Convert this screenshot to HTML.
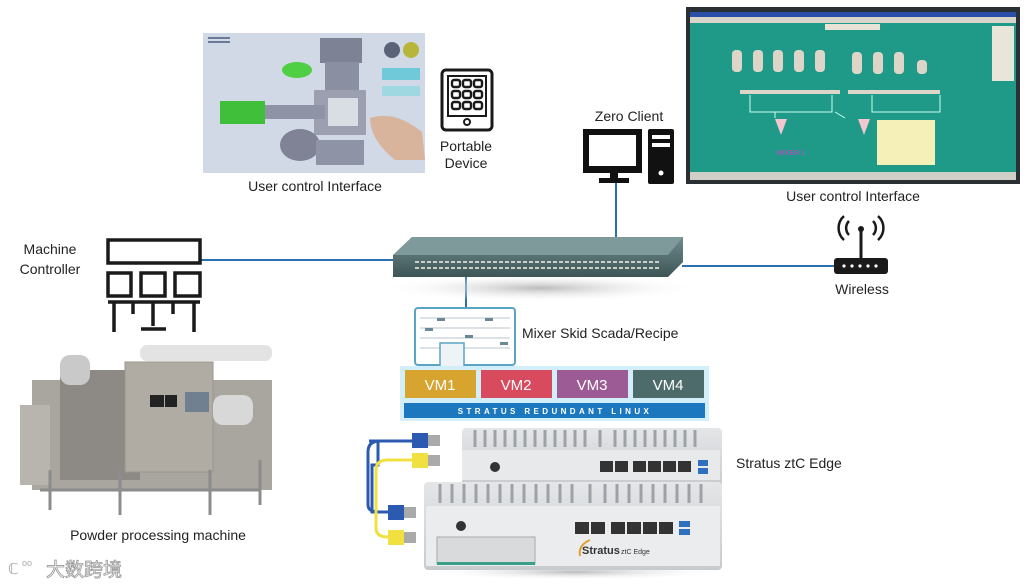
<!DOCTYPE html>
<html><head><meta charset="utf-8"><style>
html,body{margin:0;padding:0;background:#fff;width:1035px;height:585px;overflow:hidden}
svg{display:block}
text{font-family:"Liberation Sans",Arial,sans-serif;fill:#222}
</style></head><body>
<svg width="1035" height="585" viewBox="0 0 1035 585" xmlns="http://www.w3.org/2000/svg">
<defs>
<linearGradient id="sw" x1="0" y1="0" x2="0" y2="1"><stop offset="0" stop-color="#6f8a8c"/><stop offset="1" stop-color="#3e5556"/></linearGradient>
<linearGradient id="shell" x1="0" y1="0" x2="0" y2="1"><stop offset="0" stop-color="#e4e6e8"/><stop offset="1" stop-color="#c8cbce"/></linearGradient>
<radialGradient id="shd" cx="0.5" cy="0.5" r="0.5"><stop offset="0" stop-color="#bbb"/><stop offset="1" stop-color="#fff" stop-opacity="0"/></radialGradient>
</defs>

<!-- connector lines -->
<line x1="200" y1="260" x2="396" y2="260" stroke="#2b6fae" stroke-width="2"/>
<line x1="682" y1="266" x2="836" y2="266" stroke="#2b6fae" stroke-width="2"/>
<line x1="616" y1="183" x2="616" y2="240" stroke="#2b6fae" stroke-width="2"/>
<line x1="466" y1="277" x2="466" y2="309" stroke="#2b6fae" stroke-width="2"/>

<!-- left photo user interface -->
<rect x="203" y="33" width="222" height="140" fill="#c9d3e0"/>
<rect x="203" y="33" width="222" height="140" fill="#d6dde8" opacity="0.6"/>
<rect x="208" y="37" width="22" height="2" fill="#6a7a99"/><rect x="208" y="41" width="22" height="2" fill="#6a7a99"/>
<rect x="320" y="38" width="42" height="25" fill="#7d8295"/>
<rect x="325" y="62" width="34" height="28" fill="#8b8fa2"/>
<rect x="314" y="90" width="52" height="45" fill="#9b9fb0"/>
<rect x="328" y="98" width="30" height="28" fill="#d9dde4"/>
<rect x="225" y="105" width="100" height="14" fill="#8e93a5"/>
<rect x="220" y="101" width="45" height="23" fill="#3fbf3a"/>
<ellipse cx="297" cy="70" rx="15" ry="8" fill="#4fcf44"/>
<ellipse cx="300" cy="145" rx="20" ry="16" fill="#7f8395"/>
<rect x="316" y="140" width="48" height="25" fill="#8e93a5"/>
<rect x="382" y="68" width="38" height="12" fill="#6fc9d8"/>
<rect x="382" y="86" width="38" height="10" fill="#9fd8e0"/>
<circle cx="392" cy="50" r="8" fill="#5b6378"/><circle cx="411" cy="50" r="8" fill="#b7b63a"/>
<path d="M370 118 Q395 110 422 132 L425 160 L395 160 Q370 140 370 118Z" fill="#d9b49d"/>

<!-- tablet -->
<rect x="442" y="70" width="50" height="60" rx="4" fill="#fff" stroke="#1a1a1a" stroke-width="3"/>
<rect x="448" y="76" width="38" height="40" fill="#fff" stroke="#1a1a1a" stroke-width="2"/>
<g fill="#fff" stroke="#1a1a1a" stroke-width="2.4">
<rect x="452" y="80" width="8" height="7" rx="2"/><rect x="463" y="80" width="8" height="7" rx="2"/><rect x="474" y="80" width="8" height="7" rx="2"/>
<rect x="452" y="91" width="8" height="7" rx="2"/><rect x="463" y="91" width="8" height="7" rx="2"/><rect x="474" y="91" width="8" height="7" rx="2"/>
<rect x="452" y="102" width="8" height="7" rx="2"/><rect x="463" y="102" width="8" height="7" rx="2"/><rect x="474" y="102" width="8" height="7" rx="2"/>
</g>
<circle cx="467" cy="122" r="3" fill="#fff" stroke="#1a1a1a" stroke-width="2"/>
<text x="466" y="151" font-size="14" text-anchor="middle">Portable</text>
<text x="466" y="168" font-size="14" text-anchor="middle">Device</text>
<text x="315" y="191" font-size="14" text-anchor="middle">User control Interface</text>

<!-- zero client -->
<text x="629" y="121" font-size="14" text-anchor="middle">Zero Client</text>
<rect x="583" y="129" width="59" height="44" fill="#111"/>
<rect x="589" y="135" width="47" height="31" fill="#fff"/>
<rect x="610" y="173" width="8" height="6" fill="#111"/><rect x="599" y="178" width="30" height="5" fill="#111"/>
<rect x="648" y="129" width="26" height="55" rx="2" fill="#111"/>
<rect x="652" y="135" width="18" height="4" fill="#fff"/><rect x="652" y="143" width="18" height="4" fill="#fff"/>
<circle cx="661" cy="173" r="2.5" fill="#fff"/>

<!-- right screen -->
<rect x="686" y="7" width="334" height="177" fill="#2a2f33"/>
<rect x="690" y="12" width="326" height="168" fill="#1f9a89"/>
<rect x="690" y="12" width="326" height="5" fill="#2b4ea8"/>
<rect x="690" y="17" width="326" height="6" fill="#d8d5cc"/>
<rect x="825" y="24" width="55" height="6" fill="#e8e3d4"/>
<rect x="992" y="26" width="22" height="55" fill="#e8e6da"/>
<g fill="#ddd6c8">
<rect x="732" y="50" width="10" height="22" rx="4"/><rect x="753" y="50" width="10" height="22" rx="4"/><rect x="773" y="50" width="10" height="22" rx="4"/><rect x="794" y="50" width="10" height="22" rx="4"/><rect x="815" y="50" width="10" height="22" rx="4"/>
<rect x="852" y="52" width="10" height="22" rx="4"/><rect x="873" y="52" width="10" height="22" rx="4"/><rect x="894" y="52" width="10" height="22" rx="4"/><rect x="917" y="60" width="10" height="14" rx="4"/>
<rect x="740" y="90" width="100" height="4"/><rect x="848" y="90" width="92" height="4"/>
</g>
<path d="M750 95 V112 H832 V95 M775 112 V118 M835 112 L845 118 M872 95 V112 H940 V95" stroke="#cfe" stroke-width="1" fill="none"/>
<path d="M775 119 L787 119 L781 135Z M858 119 L870 119 L864 135Z" fill="#f2c7cf"/>
<rect x="877" y="120" width="58" height="45" fill="#f4f0b8"/>
<text x="777" y="155" font-size="7" fill="#d540c8" style="fill:#d540c8">MIXER 1</text>
<rect x="690" y="172" width="326" height="8" fill="#cfcfc7"/>
<text x="853" y="201" font-size="14" text-anchor="middle">User control Interface</text>

<!-- machine controller -->
<text x="50" y="254" font-size="14" text-anchor="middle">Machine</text>
<text x="50" y="274" font-size="14" text-anchor="middle">Controller</text>
<g fill="none" stroke="#1a1a1a" stroke-width="3.5">
<rect x="108" y="240" width="92" height="23"/>
<rect x="108" y="273" width="23" height="23"/><rect x="141" y="273" width="24" height="23"/><rect x="175" y="273" width="25" height="23"/>
<path d="M108 302 H200 M114 302 V332 M194 302 V332 M133 302 V314 M173 302 V314 M153 302 V326 M141 329 H166"/>
</g>

<!-- machine photo -->
<rect x="140" y="345" width="132" height="16" rx="7" fill="#e3e3e3"/>
<rect x="32" y="380" width="240" height="110" fill="#a9a59f"/>
<rect x="20" y="405" width="30" height="80" fill="#b8b5ae"/>
<rect x="60" y="370" width="80" height="110" fill="#8d8a86"/>
<rect x="125" y="362" width="88" height="110" fill="#b0aca3"/>
<rect x="125" y="362" width="88" height="110" fill="none" stroke="#9a958c"/>
<rect x="150" y="395" width="14" height="12" fill="#222"/><rect x="165" y="395" width="12" height="12" fill="#222"/>
<rect x="185" y="392" width="24" height="20" fill="#708090"/>
<rect x="213" y="395" width="40" height="30" rx="10" fill="#d8d8d8"/>
<rect x="60" y="355" width="30" height="30" rx="10" fill="#c9c9c9"/>
<path d="M40 490 H260 M50 470 V510 M120 470 V515 M210 470 V515 M260 460 V505" stroke="#8c8c8c" stroke-width="3"/>
<text x="158" y="540" font-size="14" text-anchor="middle">Powder processing machine</text>

<!-- switch -->
<ellipse cx="540" cy="288" rx="160" ry="14" fill="url(#shd)"/>
<path d="M393 255 L412 237 L683 237 L683 262 L668 277 L393 277Z" fill="url(#sw)"/>
<path d="M393 255 L412 237 L683 237 L668 255Z" fill="#7f9a9b"/>
<g stroke="#c8d0c8" stroke-width="2" stroke-dasharray="4 2">
<line x1="415" y1="262" x2="660" y2="262"/><line x1="415" y1="268" x2="660" y2="268"/>
</g>

<!-- wireless -->
<g fill="none" stroke="#1a1a1a" stroke-width="2.5">
<path d="M849 235 a10 10 0 0 1 0 -14 M844 240 a16 16 0 0 1 0 -24 M873 235 a10 10 0 0 0 0 -14 M878 240 a16 16 0 0 0 0 -24"/>
</g>
<circle cx="861" cy="229" r="3" fill="#1a1a1a"/>
<line x1="861" y1="230" x2="861" y2="258" stroke="#1a1a1a" stroke-width="3"/>
<rect x="834" y="258" width="54" height="16" rx="3" fill="#1a1a1a"/>
<g fill="#fff"><circle cx="844" cy="266" r="1.6"/><circle cx="852" cy="266" r="1.6"/><circle cx="860" cy="266" r="1.6"/><circle cx="868" cy="266" r="1.6"/><circle cx="876" cy="266" r="1.6"/></g>
<text x="862" y="294" font-size="14" text-anchor="middle">Wireless</text>

<!-- mixer monitor -->
<rect x="415" y="308" width="100" height="57" rx="3" fill="#fff" stroke="#5aa5c4" stroke-width="2"/>
<g stroke="#b9c4cc" stroke-width="1"><line x1="420" y1="318" x2="510" y2="318"/><line x1="420" y1="328" x2="510" y2="328"/><line x1="420" y1="338" x2="510" y2="338"/><line x1="420" y1="348" x2="510" y2="348"/></g>
<g fill="#6b8896"><rect x="437" y="318" width="8" height="3"/><rect x="485" y="318" width="8" height="3"/><rect x="425" y="328" width="8" height="3"/><rect x="465" y="335" width="8" height="3"/><rect x="500" y="342" width="8" height="3"/></g>
<rect x="440" y="343" width="24" height="27" fill="#eef3f6" stroke="#5aa5c4" stroke-width="1.5"/>
<text x="522" y="338" font-size="14">Mixer Skid Scada/Recipe</text>

<!-- VM stack -->
<rect x="400" y="366" width="309" height="55" fill="#d2eef8"/>
<rect x="405" y="370" width="71" height="28" fill="#d6a42f"/>
<rect x="481" y="370" width="71" height="28" fill="#d84a5d"/>
<rect x="557" y="370" width="71" height="28" fill="#9d5b95"/>
<rect x="633" y="370" width="71" height="28" fill="#4d6b6a"/>
<g font-size="15" text-anchor="middle" style="fill:#fff">
<text x="440" y="390" style="fill:#fff">VM1</text><text x="516" y="390" style="fill:#fff">VM2</text><text x="592" y="390" style="fill:#fff">VM3</text><text x="668" y="390" style="fill:#fff">VM4</text>
</g>
<rect x="404" y="403" width="301" height="15" fill="#1b78bf"/>
<text x="555" y="414" font-size="8" font-weight="bold" letter-spacing="3.4" text-anchor="middle" style="fill:#fff">STRATUS REDUNDANT LINUX</text>

<!-- stratus devices -->
<path d="M369 441 H378 V465 H372 V512 H392" fill="none" stroke="#2c5ab0" stroke-width="3"/>
<path d="M372 441 H378" stroke="#2c5ab0" stroke-width="3"/>
<path d="M412 441 H380 Q368 441 368 452 V505 Q368 512 380 512 H392" fill="none" stroke="#2c5ab0" stroke-width="3"/>
<path d="M412 460 H388 Q376 460 376 470 V528 Q376 537 388 537 H392" fill="none" stroke="#f0e040" stroke-width="3"/>
<rect x="412" y="433" width="16" height="15" fill="#2c5ab0"/><rect x="428" y="435" width="12" height="11" fill="#aaa"/>
<rect x="412" y="453" width="16" height="15" fill="#f0e040"/><rect x="428" y="455" width="12" height="11" fill="#aaa"/>
<rect x="388" y="505" width="16" height="15" fill="#2c5ab0"/><rect x="404" y="507" width="12" height="11" fill="#aaa"/>
<rect x="388" y="530" width="16" height="15" fill="#f0e040"/><rect x="404" y="532" width="12" height="11" fill="#aaa"/>

<rect x="462" y="428" width="260" height="60" rx="4" fill="url(#shell)"/>
<g stroke="#9ea2a6" stroke-width="3"><path d="M475 430 V447 M485 430 V447 M495 430 V447 M505 430 V447 M515 430 V447 M525 430 V447 M535 430 V447 M545 430 V447 M555 430 V447 M565 430 V447 M575 430 V447 M585 430 V447 M600 430 V447 M615 430 V447 M625 430 V447 M635 430 V447 M645 430 V447 M655 430 V447 M665 430 V447 M675 430 V447 M685 430 V447 M695 430 V447"/></g>
<rect x="462" y="450" width="258" height="30" fill="#e8e9ea"/>
<g fill="#333"><rect x="600" y="461" width="13" height="11"/><rect x="615" y="461" width="13" height="11"/><rect x="633" y="461" width="13" height="11"/><rect x="648" y="461" width="13" height="11"/><rect x="663" y="461" width="13" height="11"/><rect x="678" y="461" width="13" height="11"/></g>
<rect x="698" y="460" width="10" height="6" fill="#2f6fc0"/><rect x="698" y="468" width="10" height="6" fill="#2f6fc0"/>
<circle cx="495" cy="467" r="5" fill="#333"/>

<ellipse cx="575" cy="572" rx="150" ry="8" fill="url(#shd)"/>
<rect x="424" y="482" width="298" height="88" rx="4" fill="url(#shell)"/>
<g stroke="#9ea2a6" stroke-width="3"><path d="M440 484 V503 M452 484 V503 M464 484 V503 M476 484 V503 M488 484 V503 M500 484 V503 M512 484 V503 M524 484 V503 M536 484 V503 M548 484 V503 M560 484 V503 M572 484 V503 M590 484 V503 M605 484 V503 M617 484 V503 M629 484 V503 M641 484 V503 M653 484 V503 M665 484 V503 M677 484 V503 M689 484 V503 M701 484 V503"/></g>
<rect x="426" y="506" width="294" height="60" fill="#ebeced"/>
<g fill="#333"><rect x="575" y="522" width="14" height="12"/><rect x="591" y="522" width="14" height="12"/><rect x="611" y="522" width="14" height="12"/><rect x="627" y="522" width="14" height="12"/><rect x="643" y="522" width="14" height="12"/><rect x="659" y="522" width="14" height="12"/></g>
<rect x="679" y="521" width="11" height="6" fill="#2f6fc0"/><rect x="679" y="529" width="11" height="6" fill="#2f6fc0"/>
<circle cx="461" cy="526" r="5" fill="#333"/>
<rect x="437" y="537" width="98" height="27" fill="#d9dadb" stroke="#aaa"/>
<rect x="437" y="562" width="98" height="3" fill="#3aa08a"/>
<text x="582" y="554" font-size="11" font-weight="bold" style="fill:#333">Stratus</text>
<text x="621" y="554" font-size="7" style="fill:#333">ztC Edge</text>
<path d="M590 540 Q578 545 580 556" stroke="#e0a030" stroke-width="2" fill="none"/>
<text x="736" y="468" font-size="14">Stratus ztC Edge</text>

<!-- watermark -->
<text x="8" y="574" font-size="15" style="fill:#aaa">ℂ</text>
<text x="22" y="566" font-size="9" style="fill:#aaa">oo</text>
<text x="46" y="576" font-size="19" style="fill:#fff;stroke:#999;stroke-width:0.8" font-family="'Noto Sans CJK SC',sans-serif">大数跨境</text>
</svg>
</body></html>
